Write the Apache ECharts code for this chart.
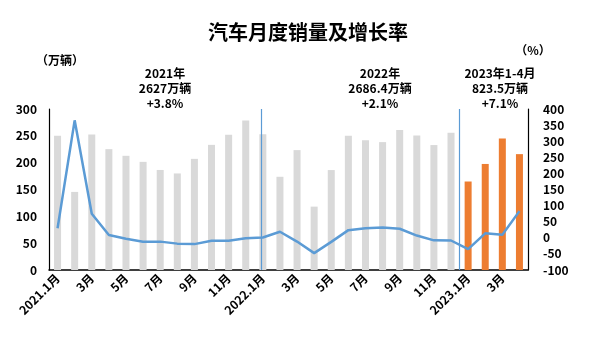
<!DOCTYPE html>
<html>
<head>
<meta charset="utf-8">
<script src="https://cdn.jsdelivr.net/npm/echarts@6/dist/echarts.min.js"></script>
<style>html,body{margin:0;padding:0;background:#fff}#c{width:590px;height:339px}</style>
</head>
<body>
<div id="c"></div>
<script>
const categories = ["2021.1月","2021.2月","2021.3月","2021.4月","2021.5月","2021.6月","2021.7月","2021.8月","2021.9月","2021.10月","2021.11月","2021.12月",
  "2022.1月","2022.2月","2022.3月","2022.4月","2022.5月","2022.6月","2022.7月","2022.8月","2022.9月","2022.10月","2022.11月","2022.12月",
  "2023.1月","2023.2月","2023.3月","2023.4月"];
const tickLabels = ["2021.1月","2月","3月","4月","5月","6月","7月","8月","9月","10月","11月","12月",
  "2022.1月","2月","3月","4月","5月","6月","7月","8月","9月","10月","11月","12月",
  "2023.1月","2月","3月","4月"];
const sales = [250.3,145.5,252.6,225.2,212.8,201.5,186.4,179.9,207.1,233.2,252.2,278.6,
  253.1,173.7,223.4,118.1,186.2,250.2,242.0,238.3,261.0,250.5,232.8,255.6,
  164.9,197.6,245.1,215.9];
const growth = [29.5,364.8,74.9,8.6,-3.1,-12.4,-11.9,-18.1,-19.6,-9.4,-9.1,-1.6,
  0.9,18.7,-11.7,-47.6,-12.6,23.8,29.7,32.1,28.1,6.9,-7.9,-8.4,
  -35.0,13.8,9.7,82.8];
const separators = [12.4, 24];
const annotations = [
  {x:165, lines:["2021年","2627万辆","+3.8%"]},
  {x:380, lines:["2022年","2686.4万辆","+2.1%"]},
  {x:500, lines:["2023年1-4月","823.5万辆","+7.1%"]}
];

const FONT = '"Noto Sans CJK SC", "Noto Sans", sans-serif';
const chart = echarts.init(document.getElementById('c'));
const barData = sales.map((v,i)=>({value:v, itemStyle:{color: i>=24 ? '#ed7d31' : '#d9d9d9'}}));

const graphics = [];
annotations.forEach(a=>{
  graphics.push({type:'text',
    style:{text:a.lines.join('\n'), x:a.x, y:66, textAlign:'center', font:'bold 12px '+FONT, fill:'#000', lineHeight:15}});
});
graphics.push({type:'text', style:{text:'（万辆）', x:60, y:54, textAlign:'center', font:'bold 12px '+FONT, fill:'#000'}});
graphics.push({type:'text', style:{text:'（%）', x:533, y:44, textAlign:'center', font:'bold 12px '+FONT, fill:'#000'}});

chart.setOption({
  animation:false,
  textStyle:{fontFamily:FONT},
  title:{text:'汽车月度销量及增长率', left:203, top:17,
    textStyle:{fontFamily:FONT, fontSize:20, fontWeight:'bold', color:'#000'}},
  graphic: graphics,
  grid:{left:49, right:62, top:109, bottom:69},
  xAxis:[
    {type:'category', data:categories,
      axisLine:{lineStyle:{color:'#000', width:1.5}}, axisTick:{show:false},
      axisLabel:{interval:1, rotate:45, fontSize:12, fontWeight:'bold', color:'#000', margin:6,
        formatter:(v,i)=>tickLabels[i]}},
    {type:'value', min:0, max:categories.length, show:false}
  ],
  yAxis:[
    {type:'value', min:0, max:300, interval:50, splitLine:{show:false},
      axisLine:{show:true, lineStyle:{color:'#000', width:1.2}}, axisTick:{show:false},
      axisLabel:{fontSize:12, fontWeight:'bold', color:'#000', margin:12}},
    {type:'value', min:-100, max:400, interval:50, splitLine:{show:false},
      axisLine:{show:true, lineStyle:{color:'#000', width:1.2}}, axisTick:{show:false},
      axisLabel:{fontSize:12, fontWeight:'bold', color:'#000', margin:15}}
  ],
  series:[
    {type:'bar', data:barData, barWidth:7, yAxisIndex:0},
    {type:'line', xAxisIndex:1, yAxisIndex:1, data:separators.map(s=>[s,0]), symbol:'none',
      lineStyle:{opacity:0}, silent:true,
      markLine:{silent:true, symbol:'none', label:{show:false},
        lineStyle:{color:'#5b9bd5', width:1.2, type:'solid'},
        data: separators.map(s=>({xAxis:s}))}},
    {type:'line', data:growth, yAxisIndex:1, symbol:'none',
      lineStyle:{color:'#5b9bd5', width:2.5}, itemStyle:{color:'#5b9bd5'}}
  ]
});
</script>
</body>
</html>
